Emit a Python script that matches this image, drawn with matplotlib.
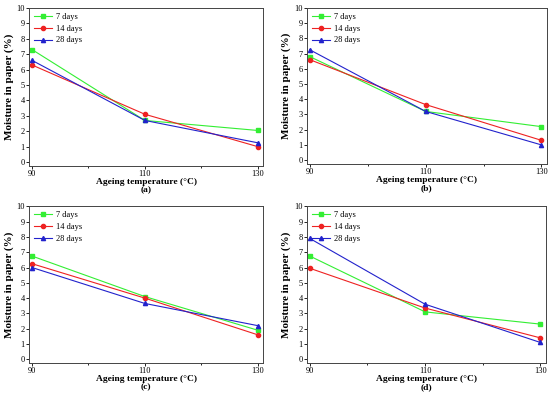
import matplotlib
matplotlib.use('Agg')
import matplotlib.pyplot as plt
from matplotlib.ticker import MultipleLocator

plt.rcParams['font.family'] = 'Liberation Serif'

temps = [90, 110, 130]
labels = ['7 days', '14 days', '28 days']
panel_names = ['(a)', '(b)', '(c)', '(d)']

# moisture in paper (%) per panel: 7, 14, 28 days
a_7 = [7.3, 2.7, 2.05]
a_14 = [6.3, 3.1, 1.0]
a_28 = [6.6, 2.7, 1.25]

b_7 = [6.8, 3.2, 2.2]
b_14 = [6.6, 3.65, 1.3]
b_28 = [7.25, 3.2, 1.0]

c_7 = [6.75, 4.1, 1.9]
c_14 = [6.25, 4.0, 1.6]
c_28 = [6.0, 3.65, 2.2]

d_7 = [6.75, 3.1, 2.3]
d_14 = [5.95, 3.35, 1.4]
d_28 = [7.9, 3.6, 1.1]

panels = [(a_7, a_14, a_28), (b_7, b_14, b_28), (c_7, c_14, c_28), (d_7, d_14, d_28)]
colors = ['#33ee33', '#ee2222', '#2222cc']
markers = ['s', 'o', '^']

fig = plt.figure(figsize=(5.5, 3.96), dpi=100)
rects = [[0.053, 0.581, 0.425, 0.399],
         [0.558, 0.586, 0.436, 0.394],
         [0.053, 0.083, 0.425, 0.396],
         [0.558, 0.083, 0.434, 0.396]]

for i, series in enumerate(panels):
    ax = fig.add_axes(rects[i])
    for vals, lab, col, mk in zip(series, labels, colors, markers):
        ax.plot(temps, vals, color=col, marker=mk, markersize=3, lw=0.8, label=lab)
    ax.set_xlim(89.5, 130.9)
    ax.set_ylim(-0.25, 10)
    ax.set_xticks(temps)
    ax.xaxis.set_minor_locator(MultipleLocator(10))
    ax.yaxis.set_major_locator(MultipleLocator(1))
    ax.tick_params(labelsize=6, length=2, width=0.6, pad=1)
    ax.tick_params(which='minor', length=1.5, width=0.6)
    for s in ax.spines.values():
        s.set_linewidth(0.7)
        s.set_color('#444444')
    ax.set_xlabel('Ageing temperature (°C)\n' + panel_names[i], fontsize=6.8,
                  fontweight='bold', labelpad=0, linespacing=0.95)
    ax.set_ylabel('Moisture in paper (%)', fontsize=8, fontweight='bold', labelpad=2)
    ax.legend(loc='upper left', fontsize=6, frameon=False, handlelength=2.2,
              labelspacing=0.45, borderaxespad=0.2, handletextpad=0.4)

fig.savefig('out.png', dpi=100)
